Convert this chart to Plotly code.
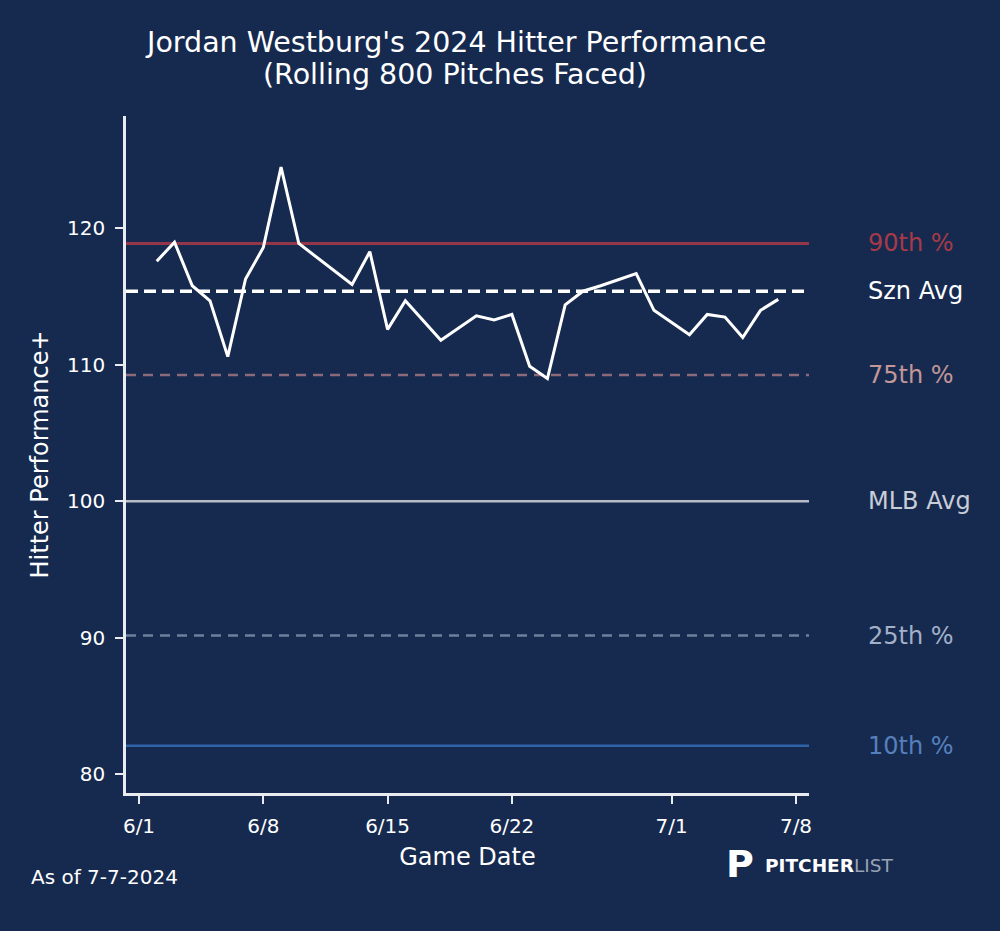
#!/usr/bin/env python3

import plotly.graph_objects as go

font_family = 'DejaVu Sans'
bg_color = '#162a4f'

# rolling hitter performance+ by game date
game_dates = ['2024-06-02', '2024-06-03', '2024-06-04', '2024-06-05', '2024-06-06',
              '2024-06-07', '2024-06-08', '2024-06-09', '2024-06-10', '2024-06-13',
              '2024-06-14', '2024-06-15', '2024-06-16', '2024-06-18', '2024-06-20',
              '2024-06-21', '2024-06-22', '2024-06-23', '2024-06-24', '2024-06-25',
              '2024-06-26', '2024-06-27', '2024-06-29', '2024-06-30', '2024-07-02',
              '2024-07-03', '2024-07-04', '2024-07-05', '2024-07-06', '2024-07-07']
hitter_perf = [117.6, 119.0, 115.8, 114.7, 110.6,
               116.3, 118.6, 124.5, 118.9, 115.9,
               118.3, 112.6, 114.7, 111.8, 113.6,
               113.3, 113.7, 109.9, 109.0, 114.4,
               115.4, 115.8, 116.7, 114.0, 112.2,
               113.7, 113.5, 112.0, 114.0, 114.8]

# reference lines
ref_names = ['90th %', 'Szn Avg', '75th %', 'MLB Avg', '25th %', '10th %']
ref_values = [118.9, 115.4, 109.25, 100.0, 90.15, 82.07]

x_tick_vals = ['2024-06-01', '2024-06-08', '2024-06-15', '2024-06-22', '2024-07-01', '2024-07-08']
x_tick_text = ['6/1', '6/8', '6/15', '6/22', '7/1', '7/8']
y_tick_vals = [80, 90, 100, 110, 120]

title_lines = ["Jordan Westburg's 2024 Hitter Performance", "(Rolling 800 Pitches Faced)"]

# styles for the reference lines, same order as ref_names
ref_line_colors = ['#93364a', '#ffffff', '#8c6a7a', '#b8bcc6', '#6f7f9f', '#2f62a8']
ref_label_colors = ['#a63a48', '#ffffff', '#c39797', '#c8cdd8', '#a2b0c8', '#5580bc']
ref_dashes = ['solid', '12px,6px', '10px,7px', 'solid', '10px,7px', 'solid']
ref_widths = [3, 3.5, 2.5, 2.5, 2.5, 2.5]

fig = go.Figure()

for name, val, lc, dash, w in zip(ref_names, ref_values, ref_line_colors, ref_dashes, ref_widths):
	fig.add_hline(y=val, line=dict(color=lc, width=w, dash=dash), layer='below')

fig.add_trace(
	go.Scatter(
		x=game_dates,
		y=hitter_perf,
		mode='lines',
		line=dict(color='white', width=3),
		showlegend=False,
		hoverinfo='x+y',
	)
)

# labels to the right of the plot area
for name, val, tc in zip(ref_names, ref_values, ref_label_colors):
	fig.add_annotation(
		text=name,
		xref='paper', x=1.0835, xanchor='left',
		yref='y', y=val, yanchor='middle',
		showarrow=False,
		font=dict(color=tc, size=24, family=font_family),
	)

# title, two lines placed separately so the spacing matches
for line_text, ypos in zip(title_lines, [1.1093, 1.0606]):
	fig.add_annotation(
		text=line_text,
		xref='paper', x=0.482, xanchor='center',
		yref='paper', y=ypos, yanchor='middle',
		showarrow=False,
		font=dict(color='white', size=28.5, family=font_family),
	)

fig.add_annotation(
	text='As of 7-7-2024',
	xref='paper', x=-0.142, xanchor='left',
	yref='paper', y=-0.124, yanchor='middle',
	showarrow=False,
	font=dict(color='white', size=20, family=font_family),
)

# pitcher list logo, text version
fig.add_annotation(
	text='<b>P</b>',
	xref='paper', x=0.899, xanchor='center',
	yref='paper', y=-0.105, yanchor='middle',
	showarrow=False,
	font=dict(color='white', size=38, family=font_family),
)
fig.add_annotation(
	text='<b>PITCHER</b><span style="color:#9aa3b5">LIST</span>',
	xref='paper', x=0.932, xanchor='left',
	yref='paper', y=-0.107, yanchor='middle',
	showarrow=False,
	font=dict(color='white', size=18.5, family=font_family),
)

axis_color = '#e8ebf0'

fig.update_xaxes(
	range=['2024-05-31 06:26', '2024-07-08 17:34'],
	tickvals=x_tick_vals,
	ticktext=x_tick_text,
	ticks='outside', ticklen=8, tickwidth=2, tickcolor=axis_color,
	ticklabelstandoff=5,
	showline=True, linecolor=axis_color, linewidth=2.5,
	showgrid=False, zeroline=False,
	tickfont=dict(color='white', size=20, family=font_family),
	title=dict(text='Game Date', font=dict(color='white', size=24, family=font_family), standoff=12),
)
fig.update_yaxes(
	range=[78.6, 128.25],
	tickvals=y_tick_vals,
	ticks='outside', ticklen=8, tickwidth=2, tickcolor=axis_color,
	ticklabelstandoff=6,
	showline=True, linecolor=axis_color, linewidth=2.5,
	showgrid=False, zeroline=False,
	tickfont=dict(color='white', size=20, family=font_family),
	title=dict(text='Hitter Performance+', font=dict(color='white', size=24, family=font_family), standoff=12),
)

fig.update_layout(
	width=1000,
	height=931,
	margin=dict(l=126, r=191, t=116, b=138, pad=0),
	paper_bgcolor=bg_color,
	plot_bgcolor=bg_color,
	showlegend=False,
)

# drop the page margin so the figure fills the window, no modebar
fig.write_html('out.html', config={'displayModeBar': False},
               post_script="document.body.style.margin='0';")
